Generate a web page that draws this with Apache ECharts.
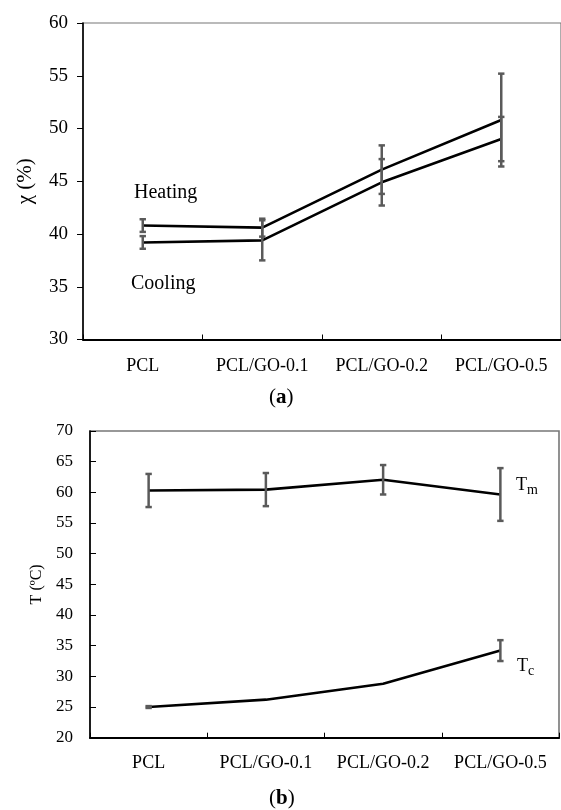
<!DOCTYPE html>
<html>
<head>
<meta charset="utf-8">
<script src="https://cdn.jsdelivr.net/npm/echarts@6/dist/echarts.min.js"></script>
<style>
  html, body { margin: 0; padding: 0; background: #fff; }
  #chart { width: 561px; height: 810px; }
</style>
</head>
<body>
<div id="chart"></div>
<script>
// Sample groups shared by both panels
const categories = ['PCL', 'PCL/GO-0.1', 'PCL/GO-0.2', 'PCL/GO-0.5'];

// Panel (a): crystallinity (%) with standard deviations
const heating = [40.8, 40.6, 46.1, 50.8];
const heatingErr = [0.6, 0.85, 2.3, 4.4];
const cooling = [39.2, 39.4, 44.9, 49.0];
const coolingErr = [0.6, 1.9, 2.2, 2.1];

// Panel (b): melting and crystallization temperatures (ºC)
const tm = [60.3, 60.45, 62.05, 59.65];
const tmErr = [2.7, 2.7, 2.4, 4.3];
const tc = [25.0, 26.2, 28.8, 34.2];
const tcErr = [0.15, 0, 0, 1.7];

// Tick values of the y axes
const yTicksA = [30, 35, 40, 45, 50, 55, 60];
const yTicksB = [20, 25, 30, 35, 40, 45, 50, 55, 60, 65, 70];

const FONT = '"Liberation Serif", "DejaVu Serif", serif';
const ERR_COLOR = '#5a5a5a';

function errorData(values, errs) {
  return values.map((v, i) => [i, v - errs[i], v + errs[i]]);
}

// Vertical error bar with small caps at both ends
function renderErrorBar(params, api) {
  const x = api.value(0);
  const lo = api.coord([x, api.value(1)]);
  const hi = api.coord([x, api.value(2)]);
  if (Math.abs(lo[1] - hi[1]) < 0.5) return null;
  const half = 3.2;
  const style = { stroke: ERR_COLOR, lineWidth: 2.5 };
  return {
    type: 'group',
    children: [
      { type: 'line', shape: { x1: hi[0], y1: hi[1], x2: lo[0], y2: lo[1] }, style },
      { type: 'line', shape: { x1: hi[0] - half, y1: hi[1], x2: hi[0] + half, y2: hi[1] }, style },
      { type: 'line', shape: { x1: lo[0] - half, y1: lo[1], x2: lo[0] + half, y2: lo[1] }, style }
    ]
  };
}

function lineSeries(data, axis) {
  return {
    type: 'line', data, xAxisIndex: axis, yAxisIndex: axis,
    symbol: 'none', lineStyle: { color: '#000', width: 2.6 }, z: 3,
    animation: false
  };
}
function errSeries(values, errs, axis) {
  return {
    type: 'custom', renderItem: renderErrorBar,
    data: errorData(values, errs), xAxisIndex: axis, yAxisIndex: axis,
    encode: { x: 0, y: [1, 2] }, z: 4, animation: false, silent: true
  };
}

function yAxisOf(ticks, gridIndex, opts) {
  return {
    type: 'value', gridIndex,
    min: ticks[0], max: ticks[ticks.length - 1], interval: ticks[1] - ticks[0],
    splitLine: { show: false },
    axisLine: { show: true, lineStyle: { color: '#000', width: 1.6 } },
    axisTick: { show: true, inside: opts.tickInside, length: 6, lineStyle: { color: '#000', width: 1 } },
    axisLabel: { color: '#000', fontFamily: FONT, fontSize: opts.fontSize, margin: opts.margin },
    name: opts.name, nameLocation: 'middle', nameGap: opts.nameGap, nameRotate: 90,
    nameTextStyle: { color: '#000', fontFamily: FONT, fontSize: opts.nameSize }
  };
}

function xAxisOf(gridIndex, margin) {
  return {
    type: 'category', gridIndex, data: categories, boundaryGap: true,
    axisLine: { show: true, lineStyle: { color: '#000', width: 2.2 } },
    axisTick: { show: true, inside: true, length: 5, lineStyle: { color: '#000', width: 1 } },
    axisLabel: { color: '#000', fontFamily: FONT, fontSize: 18, margin, interval: 0 }
  };
}

const chart = echarts.init(document.getElementById('chart'), null, { renderer: 'canvas' });

chart.setOption({
  backgroundColor: '#fff',
  animation: false,
  grid: [
    { left: 83, top: 23, width: 484, height: 316.5, show: true, borderColor: '#777', borderWidth: 1.2, backgroundColor: 'transparent' },
    { left: 90, top: 431, width: 469, height: 306.7, show: true, borderColor: '#777', borderWidth: 1.6, backgroundColor: 'transparent' }
  ],
  xAxis: [xAxisOf(0, 18), xAxisOf(1, 17)],
  yAxis: [
    yAxisOf(yTicksA, 0, { tickInside: false, fontSize: 19, margin: 15, name: 'χ (%)', nameGap: 47, nameSize: 21 }),
    yAxisOf(yTicksB, 1, { tickInside: true, fontSize: 17, margin: 17, name: 'T (ºC)', nameGap: 43, nameSize: 16 })
  ],
  series: [
    lineSeries(heating, 0),
    lineSeries(cooling, 0),
    errSeries(heating, heatingErr, 0),
    errSeries(cooling, coolingErr, 0),
    lineSeries(tm, 1),
    lineSeries(tc, 1),
    errSeries(tm, tmErr, 1),
    errSeries(tc, tcErr, 1)
  ],
  graphic: [
    { type: 'text', left: 134, top: 183, style: { text: 'Heating', font: '20px ' + FONT, fill: '#000' } },
    { type: 'text', left: 131, top: 274, style: { text: 'Cooling', font: '20px ' + FONT, fill: '#000' } },
    {
      type: 'text', left: 516, top: 476,
      style: {
        text: '{t|T}{s|m}', fill: '#000',
        rich: {
          t: { fontFamily: FONT, fontSize: 18, fill: '#000' },
          s: { fontFamily: FONT, fontSize: 14, fill: '#000', padding: [10, 0, 0, 0] }
        }
      }
    },
    {
      type: 'text', left: 517, top: 657,
      style: {
        text: '{t|T}{s|c}', fill: '#000',
        rich: {
          t: { fontFamily: FONT, fontSize: 18, fill: '#000' },
          s: { fontFamily: FONT, fontSize: 14, fill: '#000', padding: [10, 0, 0, 0] }
        }
      }
    },
    {
      type: 'text', left: 269, top: 387,
      style: {
        text: '{p|(}{b|a}{p|)}',
        rich: {
          p: { fontFamily: FONT, fontSize: 21, fill: '#000' },
          b: { fontFamily: FONT, fontSize: 21, fontWeight: 'bold', fill: '#000' }
        }
      }
    },
    {
      type: 'text', left: 269, top: 788,
      style: {
        text: '{p|(}{b|b}{p|)}',
        rich: {
          p: { fontFamily: FONT, fontSize: 21, fill: '#000' },
          b: { fontFamily: FONT, fontSize: 21, fontWeight: 'bold', fill: '#000' }
        }
      }
    }
  ]
});
</script>
</body>
</html>
